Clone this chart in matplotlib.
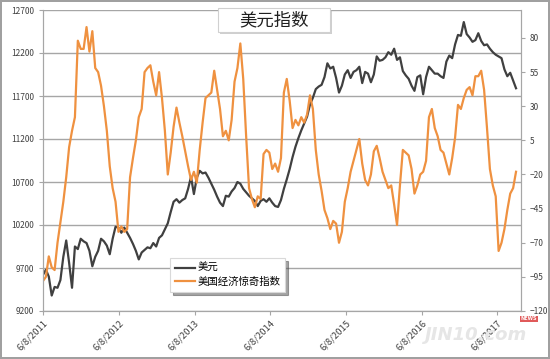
# 美元指数 vs 美国经济惊奇指数 (2011-2017)
import pandas as pd
import matplotlib
matplotlib.use("Agg")
import matplotlib.pyplot as plt
from matplotlib.patches import Rectangle

plt.rcParams['font.family'] = ['Noto Sans CJK SC', 'DejaVu Sans']

# valeurs, un point toutes les deux semaines depuis le 8/6/2011
usd = [
    9620, 9680, 9600, 9380, 9480, 9470, 9560, 9830, 10020, 9760,
    9470, 9950, 9920, 10040, 10010, 9990, 9900, 9720, 9830, 9900,
    10040, 10010, 9960, 9860, 10040, 10180, 10170, 10110, 10170, 10110,
    10050, 9980, 9900, 9800, 9880, 9910, 9940, 9930, 9990, 9950,
    10050, 10080, 10150, 10220, 10350, 10470, 10500, 10460, 10490, 10510,
    10620, 10760, 10560, 10750, 10830, 10800, 10810, 10750, 10680, 10610,
    10530, 10460, 10420, 10540, 10530, 10590, 10630, 10700, 10680, 10620,
    10580, 10540, 10510, 10480, 10420, 10480, 10500, 10470, 10510, 10460,
    10420, 10410, 10490, 10620, 10730, 10850, 10990, 11110, 11210, 11300,
    11380, 11460, 11600, 11680, 11780, 11810, 11830, 11920, 12080, 12020,
    12040, 11910, 11740, 11820, 11950, 12000, 11910, 11980, 12000, 12040,
    11850, 11980, 11960, 11860, 11950, 12160, 12110, 12120, 12150, 12210,
    12180, 12250, 12120, 12150, 11990, 11940, 11900, 11820, 11760, 11920,
    11940, 11720, 11920, 12040, 12000, 11960, 11960, 11930, 11910, 12100,
    12170, 12140, 12300, 12410, 12400, 12560, 12420, 12380, 12330, 12350,
    12430, 12340, 12290, 12300, 12250, 12210, 12180, 12160, 12140, 12010,
    11930, 11970, 11880, 11790,
]
surprise = [
    -98, -95, -80, -88, -90, -70, -55, -40, -22, 0,
    12, 22, 78, 72, 72, 88, 70, 85, 58, 55,
    45, 30, 12, -14, -30, -40, -62, -58, -62, -60,
    -22, -8, 5, 22, 28, 55, 58, 60, 48, 38,
    55, 36, 12, -20, -4, 15, 29, 18, 8, -3,
    -14, -24, -18, -26, -2, 18, 36, 38, 40, 56,
    42, 28, 8, 12, 5, 20, 48, 58, 76, 50,
    8, -30, -38, -44, -36, -38, -5, -2, -4, -16,
    -12, -18, -8, 40, 50, 34, 14, 20, 16, 22,
    18, 24, 38, 28, -2, -20, -32, -46, -52, -60,
    -54, -56, -70, -62, -40, -30, -18, -10, -2, 6,
    -12, -24, -28, -20, -3, 1, -8, -18, -24, -30,
    -28, -42, -57, -28, -2, -4, -6, -16, -34, -28,
    -20, -18, -10, 22, 28, 14, 8, -2, -4, -12,
    -20, -8, 7, 31, 28, 36, 42, 44, 38, 52,
    52, 56, 42, 14, -16, -28, -36, -76, -70, -60,
    -46, -34, -30, -18,
]
tick_dates = ['2011-06-08', '2012-06-08', '2013-06-08', '2014-06-08',
              '2015-06-08', '2016-06-08', '2017-06-08']
tick_labels = ['6/8/2011', '6/8/2012', '6/8/2013', '6/8/2014',
               '6/8/2015', '6/8/2016', '6/8/2017']
left_ticks = [9200, 9700, 10200, 10700, 11200, 11700, 12200, 12700]
right_ticks = [-120, -95, -70, -45, -20, 5, 30, 55, 80]

dates = pd.date_range('2011-06-08', periods=len(usd), freq='14D')

DARK = '#404040'
ORANGE = '#EF9140'
GRID = '#a6a6a6'

fig = plt.figure(figsize=(5.5, 3.59), dpi=100)
fig.patch.set_edgecolor('#a0a0a0')
fig.patch.set_linewidth(1.5)
ax = fig.add_axes([43 / 550, 1 - 311 / 359, 478 / 550, 301 / 359])
ax2 = ax.twinx()

# filigrane (sous les courbes)
fig.text(0.865, 0.068, 'JIN10.com', ha='center', va='center', fontsize=13,
         fontweight='bold', style='italic', color='#e6e6e6', family='DejaVu Sans',
         zorder=0)
fig.text(0.962, 0.112, 'NEWS', ha='center', va='center', fontsize=3.5,
         fontweight='bold', color='white', family='DejaVu Sans', zorder=0,
         bbox=dict(boxstyle='square,pad=0.15', fc='#e05a5a', ec='none'))

l1, = ax.plot(dates, usd, color=DARK, lw=1.6, label='美元')
l2, = ax2.plot(dates, surprise, color=ORANGE, lw=1.6, label='美国经济惊奇指数')

ax.set_xlim(pd.Timestamp('2011-06-08'), pd.Timestamp('2017-09-30'))
ax.set_ylim(9200, 12700)
ax.set_yticks(left_ticks)
ax2.set_ylim(-120, 100.5)
ax2.set_yticks(right_ticks)
ax.set_xticks(pd.to_datetime(tick_dates))
ax.set_xticklabels(tick_labels, rotation=45, ha='right', rotation_mode='anchor')

ax.grid(axis='y', color=GRID, lw=1)
ax.set_axisbelow(True)
for a in (ax, ax2):
    a.patch.set_visible(False)
    a.spines['top'].set_visible(False)
    for s in ('left', 'right', 'bottom'):
        a.spines[s].set_color(GRID)
ax.tick_params(axis='y', labelsize=6, colors=GRID, labelcolor=DARK, length=3)
ax.tick_params(axis='x', labelsize=6.8, colors=GRID, labelcolor=DARK, length=3, pad=2)
ax2.tick_params(axis='y', labelsize=6, colors=GRID, labelcolor=DARK, length=3)

# encadré du titre avec ombre
fig.add_artist(Rectangle((220 / 550, 1 - 34 / 359), 112 / 550, 24 / 359,
                         transform=fig.transFigure, fc='#b0b0b0', ec='none', alpha=0.6))
fig.add_artist(Rectangle((218 / 550, 1 - 32 / 359), 112 / 550, 24 / 359,
                         transform=fig.transFigure, fc='white', ec='#d0d0d0', lw=0.8))
fig.text(274 / 550, 1 - 20 / 359, '美元指数', ha='center', va='center',
         fontsize=12.5, color='#202020')

leg = ax2.legend(handles=[l1, l2], loc='upper left',
                 bbox_to_anchor=(170 / 550, 1 - 258 / 359), bbox_transform=fig.transFigure,
                 fontsize=7.5, frameon=True, fancybox=False, shadow=True,
                 handlelength=1.9, handletextpad=0.2, labelspacing=0.35,
                 borderpad=0.5, borderaxespad=0)
leg.get_frame().set_edgecolor('#d9d9d9')
leg.get_frame().set_linewidth(0.8)

fig.savefig('out.png', dpi=100, edgecolor=fig.get_edgecolor())
